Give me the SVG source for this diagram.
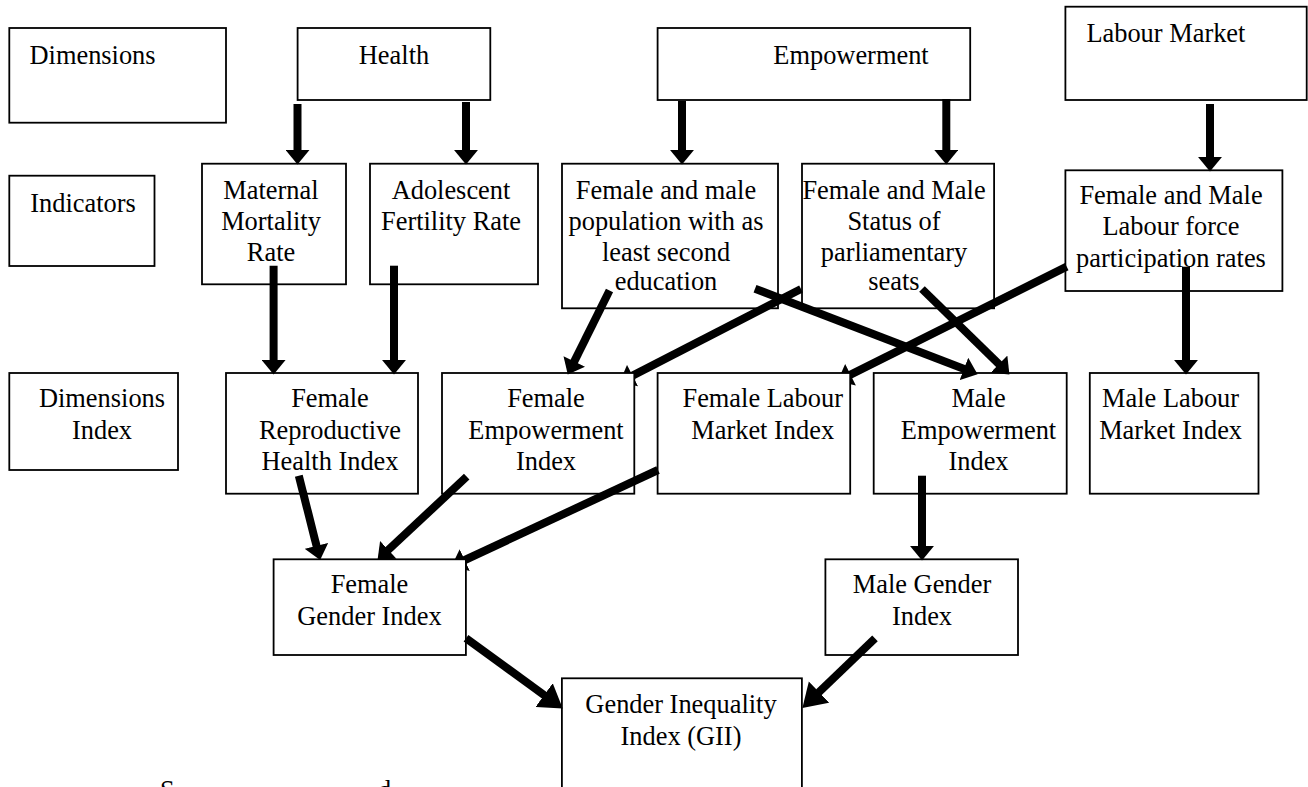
<svg xmlns="http://www.w3.org/2000/svg" width="1308" height="787" viewBox="0 0 1308 787">
<style>
.box{fill:#fff;stroke:#000;stroke-width:1.8}
.t{font-family:"Liberation Serif","Times New Roman",serif;font-size:26.4px;fill:#000}
.c{text-anchor:middle}
.ln{stroke:#000;stroke-width:8;fill:none;marker-end:url(#ah)}
.lnb{stroke:#000;stroke-width:8;fill:none;marker-end:url(#ahb)}
</style>
<defs>
<marker id="ah" markerUnits="userSpaceOnUse" markerWidth="16" markerHeight="24" viewBox="0 0 15 23" refX="1" refY="11.5" orient="auto"><path d="M0,0 L14,11.5 L0,23 z" fill="#000"/></marker>
<marker id="ahb" markerUnits="userSpaceOnUse" markerWidth="24" markerHeight="30" viewBox="0 0 23 28" refX="1" refY="14" orient="auto"><path d="M0,0 L22,14 L0,28 z" fill="#000"/></marker>
<clipPath id="clipFE"><path clip-rule="evenodd" d="M0,0H1308V787H0Z M442,373H634.3V493.7H442Z"/></clipPath>
<clipPath id="clipFL"><path clip-rule="evenodd" d="M0,0H1308V787H0Z M657.6,373H850.2V493.7H657.6Z"/></clipPath>
<clipPath id="clipFG"><path clip-rule="evenodd" d="M0,0H1308V787H0Z M273.6,559.3H465.9V655H273.6Z"/></clipPath>
</defs>

<g id="dimensions"><rect class="box" x="9.3" y="28" width="216.7" height="94.7"/><text class="t" x="29.5" y="64">Dimensions</text></g>
<g id="health"><rect class="box" x="297.6" y="28" width="192.7" height="72"/><text class="t c" x="394" y="64">Health</text></g>
<g id="empowerment"><rect class="box" x="657.6" y="28" width="312.6" height="72"/><text class="t c" x="851" y="64">Empowerment</text></g>
<g id="labour-market"><rect class="box" x="1065.4" y="6.7" width="241.3" height="93.3"/><text class="t" x="1086.4" y="41.7">Labour Market</text></g>

<g id="indicators"><rect class="box" x="9.3" y="175.7" width="145.2" height="90.3"/><text class="t" x="30.3" y="212">Indicators</text></g>
<g id="maternal"><rect class="box" x="202" y="163.7" width="144" height="120.6"/><text class="t c"><tspan x="271" y="199">Maternal</tspan><tspan x="271" y="230">Mortality</tspan><tspan x="271" y="260.7">Rate</tspan></text></g>
<g id="adolescent"><rect class="box" x="370" y="163.7" width="168" height="120.6"/><text class="t c"><tspan x="451" y="199">Adolescent</tspan><tspan x="451" y="230">Fertility Rate</tspan></text></g>
<g id="education"><rect class="box" x="562" y="163.7" width="216" height="144.6"/><text class="t c"><tspan x="666" y="199">Female and male</tspan><tspan x="666" y="230">population with as</tspan><tspan x="666" y="260.7">least second</tspan><tspan x="666" y="290">education</tspan></text></g>
<g id="parliament"><rect class="box" x="802" y="163.7" width="192.1" height="144.6"/><text class="t c"><tspan x="894" y="199">Female and Male</tspan><tspan x="894" y="230">Status of</tspan><tspan x="894" y="260.7">parliamentary</tspan><tspan x="894" y="290">seats</tspan></text></g>
<g id="labour-force"><rect class="box" x="1065.4" y="170.3" width="217" height="120.7"/><text class="t c"><tspan x="1171" y="204">Female and Male</tspan><tspan x="1171" y="235">Labour force</tspan><tspan x="1171" y="266.7">participation rates</tspan></text></g>

<g id="dimensions-index"><rect class="box" x="9.3" y="373" width="168.7" height="97"/><text class="t c"><tspan x="102" y="407.3">Dimensions</tspan><tspan x="102" y="439">Index</tspan></text></g>
<g id="female-reproductive"><rect class="box" x="226" y="373" width="192" height="120.7"/><text class="t c"><tspan x="330" y="407.3">Female</tspan><tspan x="330" y="439">Reproductive</tspan><tspan x="330" y="470">Health Index</tspan></text></g>
<g id="female-empowerment"><rect class="box" x="442" y="373" width="192.3" height="120.7"/><text class="t c"><tspan x="546" y="407.3">Female</tspan><tspan x="546" y="439">Empowerment</tspan><tspan x="546" y="470">Index</tspan></text></g>
<g id="female-labour"><rect class="box" x="657.6" y="373" width="192.6" height="120.7"/><text class="t c"><tspan x="762.7" y="407.3">Female Labour</tspan><tspan x="762.7" y="439">Market Index</tspan></text></g>
<g id="male-empowerment"><rect class="box" x="873.7" y="373" width="193" height="120.7"/><text class="t c"><tspan x="978.5" y="407.3">Male</tspan><tspan x="978.5" y="439">Empowerment</tspan><tspan x="978.5" y="470">Index</tspan></text></g>
<g id="male-labour"><rect class="box" x="1089.8" y="373" width="168.7" height="120.7"/><text class="t c"><tspan x="1170.6" y="407.3">Male Labour</tspan><tspan x="1170.6" y="439">Market Index</tspan></text></g>

<g id="female-gender"><rect class="box" x="273.6" y="559.3" width="192.3" height="95.7"/><text class="t c"><tspan x="369.5" y="593.3">Female</tspan><tspan x="369.5" y="625">Gender Index</tspan></text></g>
<g id="male-gender"><rect class="box" x="825.4" y="559.3" width="192.6" height="95.7"/><text class="t c"><tspan x="922" y="593.3">Male Gender</tspan><tspan x="922" y="625">Index</tspan></text></g>
<g id="gii"><rect class="box" x="561.9" y="678.3" width="240" height="130"/><text class="t c"><tspan x="681" y="713.3">Gender Inequality</tspan><tspan x="681" y="745">Index (GII)</tspan></text></g>

<g id="connectors">
<line class="ln" x1="297.5" y1="104" x2="297.5" y2="151"/>
<line class="ln" x1="466" y1="102" x2="466" y2="151"/>
<line class="ln" x1="682" y1="101" x2="682" y2="151"/>
<line class="ln" x1="946.3" y1="99" x2="946.3" y2="151"/>
<line class="ln" x1="1210" y1="104" x2="1210" y2="158"/>
<line class="ln" x1="273.6" y1="265.7" x2="273.6" y2="361"/>
<line class="ln" x1="394" y1="265.7" x2="394" y2="361"/>
<line class="ln" x1="609.5" y1="290.5" x2="573.8" y2="362.4"/>
<g clip-path="url(#clipFE)"><line class="ln" x1="801" y1="289" x2="631.6" y2="376.1"/></g>
<line class="ln" x1="755" y1="288.7" x2="964.9" y2="369.3"/>
<line class="ln" x1="922" y1="289" x2="999.7" y2="364.9"/>
<g clip-path="url(#clipFL)"><line class="ln" x1="1066.7" y1="266.7" x2="849.6" y2="375.2"/></g>
<line class="ln" x1="1186" y1="266.7" x2="1186" y2="361"/>
<line class="ln" x1="298.8" y1="475.7" x2="316.8" y2="546.9"/>
<line class="ln" x1="466.7" y1="476.7" x2="387.5" y2="550.6"/>
<g clip-path="url(#clipFG)"><line class="ln" x1="658" y1="470" x2="463.8" y2="560.5"/></g>
<line class="ln" x1="922" y1="475.7" x2="922" y2="547"/>
<line class="lnb" x1="466" y1="638.3" x2="545" y2="695.7"/>
<line class="lnb" x1="875" y1="638.3" x2="818.2" y2="692.8"/>
</g>

<text class="t" x="160" y="799">S</text>
<text class="t" x="378" y="799">d</text>
</svg>
